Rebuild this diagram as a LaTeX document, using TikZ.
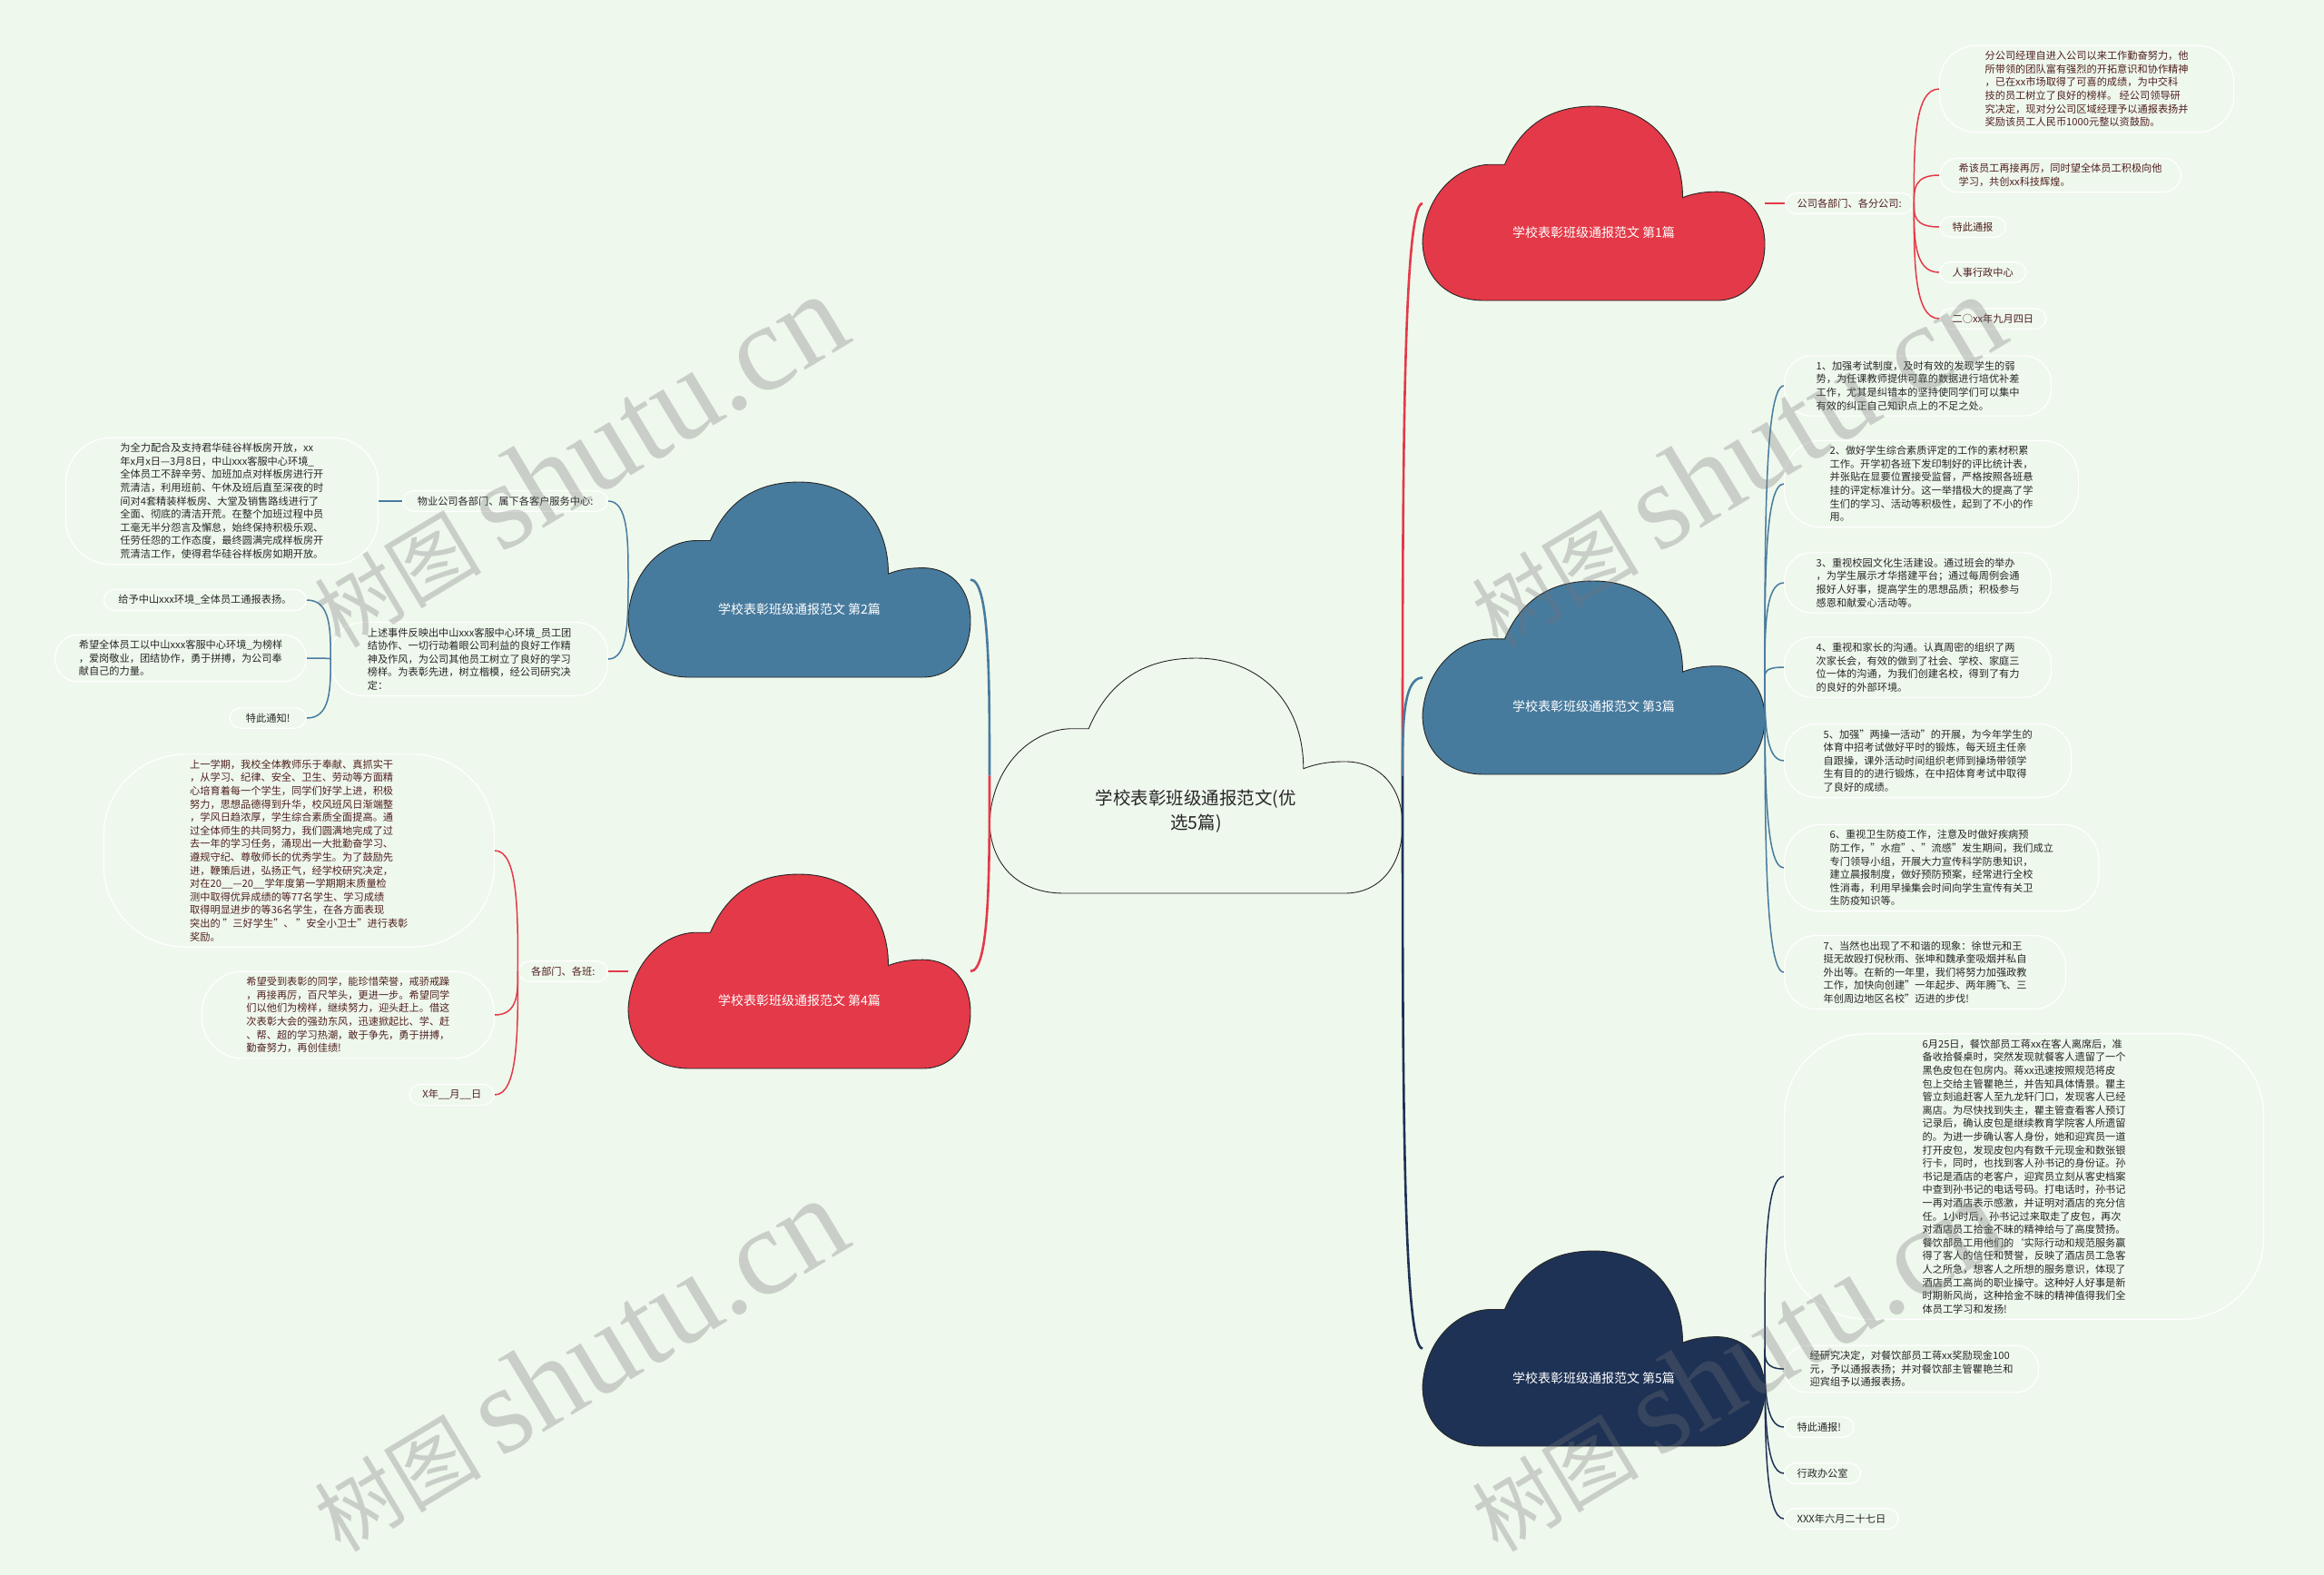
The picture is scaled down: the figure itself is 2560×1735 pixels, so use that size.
\documentclass[tikz,border=0pt]{standalone}
\usepackage{fontspec}
\setmainfont{Noto Sans CJK SC}
\newfontfamily\wmserif{Liberation Serif}
\usepackage{tikz}
\usetikzlibrary{calc}
\usepackage{xcolor}
\definecolor{mint}{RGB}{239,248,237}
\definecolor{cred}{RGB}{228,57,72}
\definecolor{cblue}{RGB}{71,123,158}
\definecolor{cnavy}{RGB}{30,50,85}
\definecolor{txtred}{RGB}{80,32,32}
\definecolor{txtgray}{RGB}{40,40,40}

% cloud: name, x0, y0, width, height, fill, text style, text
\newcommand{\drawcloud}[8]{%
  \begin{scope}[shift={(#2,#3)},xscale=#4,yscale=#5]
    \filldraw[fill=#6,draw=black!85,line width=0.9pt]
      (0.18,1) .. controls (0.06,1) and (0,0.86) .. (0,0.69)
      .. controls (0.01,0.44) and (0.11,0.30) .. (0.20,0.30) -- (0.24,0.30)
      .. controls (0.29,0.09) and (0.38,0) .. (0.50,0)
      .. controls (0.65,0) and (0.76,0.18) .. (0.76,0.47)
      .. controls (0.79,0.45) and (0.82,0.44) .. (0.86,0.44)
      .. controls (0.95,0.44) and (1,0.56) .. (1,0.71)
      .. controls (1,0.87) and (0.95,1) .. (0.86,1) -- cycle;
    \coordinate (#1-w) at (0,0.5);
    \coordinate (#1-e) at (1,0.5);
    \node[#7] (#1) at (0.5,0.65) {#8};
  \end{scope}}
% curved connector from a fork to a child
\newcommand{\sprig}[3][]{\draw[#1] (#2) .. controls ($(#2)!0.5!(#2 |- #3)$) and (#2 |- #3) .. (#3);}

\begin{document}
\begin{tikzpicture}[x=1pt,y=-1pt,
  leaf/.style={draw=white,line width=1.2pt,rounded corners=12pt,align=left,
    inner ysep=6pt,inner xsep=14pt,font={\fontsize{11.2}{14.6}\selectfont}},
  redleaf/.style={leaf,text=txtred},
  blueleaf/.style={leaf,text=txtgray},
  navyleaf/.style={leaf,text=black!85},
  cloudtxt/.style={text=white,font={\fontsize{14}{17}\selectfont}},
  roottxt/.style={text=black!85,align=center,font={\fontsize{19.5}{27}\selectfont}},
  trunk/.style={line width=2.6pt},
  twigline/.style={line width=1.5pt},
  wmark/.style={rotate=31,text=black!55,text opacity=0.3,inner sep=0pt}]
\useasboundingbox (0,0) rectangle (2560,1735);
\fill[mint] (0,0) rectangle (2560,1735);

% clouds
\drawcloud{root}{1090}{725}{455}{259}{mint}{roottxt}{学校表彰班级通报范文(优\\选5篇)}
\drawcloud{c1}{1567}{117}{377}{214}{cred}{cloudtxt}{学校表彰班级通报范文 第1篇}
\drawcloud{c2}{692}{531}{377}{215}{cblue}{cloudtxt}{学校表彰班级通报范文 第2篇}
\drawcloud{c3}{1567}{640}{377}{213}{cblue}{cloudtxt}{学校表彰班级通报范文 第3篇}
\drawcloud{c4}{692}{963}{377}{214}{cred}{cloudtxt}{学校表彰班级通报范文 第4篇}
\drawcloud{c5}{1567}{1378}{377}{215}{cnavy}{cloudtxt}{学校表彰班级通报范文 第5篇}

% branch 1
\node[redleaf,anchor=west,inner xsep=13pt] (b1) at (1966,224) {公司各部门、各分公司:};
\node[redleaf,anchor=west,inner xsep=50pt,rounded corners=40pt] (b1a) at (2136,98)
  {分公司经理自进入公司以来工作勤奋努力，他\\所带领的团队富有强烈的开拓意识和协作精神\\，已在xx市场取得了可喜的成绩，为中交科\\技的员工树立了良好的榜样。 经公司领导研\\究决定，现对分公司区域经理予以通报表扬并\\奖励该员工人民币1000元整以资鼓励。};
\node[redleaf,anchor=west,inner xsep=21pt,rounded corners=20pt] (b1b) at (2136,193)
  {希该员工再接再厉，同时望全体员工积极向他\\学习，共创xx科技辉煌。};
\node[redleaf,anchor=west] (b1c) at (2136,250) {特此通报};
\node[redleaf,anchor=west] (b1d) at (2136,300) {人事行政中心};
\node[redleaf,anchor=west] (b1e) at (2136,351) {二○xx年九月四日};

% branch 3
\node[blueleaf,anchor=west,inner xsep=35pt,rounded corners=30pt] (b3a) at (1965,425)
  {1、加强考试制度，及时有效的发现学生的弱\\势，为任课教师提供可靠的数据进行培优补差\\工作，尤其是纠错本的坚持使同学们可以集中\\有效的纠正自己知识点上的不足之处。};
\node[blueleaf,anchor=west,inner xsep=50pt,rounded corners=40pt] (b3b) at (1965,533)
  {2、做好学生综合素质评定的工作的素材积累\\工作。开学初各班下发印制好的评比统计表，\\并张贴在显要位置接受监督，严格按照各班悬\\挂的评定标准计分。这一举措极大的提高了学\\生们的学习、活动等积极性，起到了不小的作\\用。};
\node[blueleaf,anchor=west,inner xsep=35pt,rounded corners=30pt] (b3c) at (1965,642)
  {3、重视校园文化生活建设。通过班会的举办\\，为学生展示才华搭建平台；通过每周例会通\\报好人好事，提高学生的思想品质；积极参与\\感恩和献爱心活动等。};
\node[blueleaf,anchor=west,inner xsep=35pt,rounded corners=30pt] (b3d) at (1965,735)
  {4、重视和家长的沟通。认真周密的组织了两\\次家长会，有效的做到了社会、学校、家庭三\\位一体的沟通，为我们创建名校，得到了有力\\的良好的外部环境。};
\node[blueleaf,anchor=west,inner xsep=43pt,rounded corners=35pt] (b3e) at (1965,838)
  {5、加强"两操一活动"的开展，为今年学生的\\体育中招考试做好平时的锻炼，每天班主任亲\\自跟操，课外活动时间组织老师到操场带领学\\生有目的的进行锻炼，在中招体育考试中取得\\了良好的成绩。};
\node[blueleaf,anchor=west,inner xsep=50pt,rounded corners=40pt] (b3f) at (1965,956)
  {6、重视卫生防疫工作，注意及时做好疾病预\\防工作，"水痘"、"流感"发生期间，我们成立\\专门领导小组，开展大力宣传科学防患知识，\\建立晨报制度，做好预防预案，经常进行全校\\性消毒，利用早操集会时间向学生宣传有关卫\\生防疫知识等。};
\node[blueleaf,anchor=west,inner xsep=43pt,rounded corners=35pt] (b3g) at (1965,1071)
  {7、当然也出现了不和谐的现象：徐世元和王\\挺无故殴打倪秋雨、张坤和魏承奎吸烟并私自\\外出等。在新的一年里，我们将努力加强政教\\工作，加快向创建"一年起步、两年腾飞、三\\年创周边地区名校"迈进的步伐!};

% branch 5
\node[navyleaf,anchor=west,inner xsep=152pt,rounded corners=90pt] (b5a) at (1965,1296)
  {6月25日，餐饮部员工蒋xx在客人离席后，准\\备收拾餐桌时，突然发现就餐客人遗留了一个\\黑色皮包在包房内。蒋xx迅速按照规范将皮\\包上交给主管瞿艳兰，并告知具体情景。瞿主\\管立刻追赶客人至九龙轩门口，发现客人已经\\离店。为尽快找到失主，瞿主管查看客人预订\\记录后，确认皮包是继续教育学院客人所遗留\\的。为进一步确认客人身份，她和迎宾员一道\\打开皮包，发现皮包内有数千元现金和数张银\\行卡，同时，也找到客人孙书记的身份证。孙\\书记是酒店的老客户，迎宾员立刻从客史档案\\中查到孙书记的电话号码。打电话时，孙书记\\一再对酒店表示感激，并证明对酒店的充分信\\任。1小时后，孙书记过来取走了皮包，再次\\对酒店员工拾金不昧的精神给与了高度赞扬。\\餐饮部员工用他们的`实际行动和规范服务赢\\得了客人的信任和赞誉，反映了酒店员工急客\\人之所急，想客人之所想的服务意识，体现了\\酒店员工高尚的职业操守。这种好人好事是新\\时期新风尚，这种拾金不昧的精神值得我们全\\体员工学习和发扬!};
\node[navyleaf,anchor=west,inner xsep=28pt,rounded corners=25pt] (b5b) at (1965,1508)
  {经研究决定，对餐饮部员工蒋xx奖励现金100\\元，予以通报表扬；并对餐饮部主管瞿艳兰和\\迎宾组予以通报表扬。};
\node[navyleaf,anchor=west] (b5c) at (1965,1572) {特此通报!};
\node[navyleaf,anchor=west] (b5d) at (1965,1623) {行政办公室};
\node[navyleaf,anchor=west] (b5e) at (1965,1673) {XXX年六月二十七日};

% branch 2
\node[blueleaf,anchor=east,inner xsep=16pt] (b2) at (670,552) {物业公司各部门、属下各客户服务中心:};
\node[blueleaf,anchor=east,inner xsep=60pt,rounded corners=50pt] (b2x) at (417,552)
  {为全力配合及支持君华硅谷样板房开放，xx\\年x月x日—3月8日，中山xxx客服中心环境\_\\全体员工不辞辛劳、加班加点对样板房进行开\\荒清洁，利用班前、午休及班后直至深夜的时\\间对4套精装样板房、大堂及销售路线进行了\\全面、彻底的清洁开荒。在整个加班过程中员\\工毫无半分怨言及懈怠，始终保持积极乐观、\\任劳任怨的工作态度，最终圆满完成样板房开\\荒清洁工作，使得君华硅谷样板房如期开放。};
\node[blueleaf,anchor=east,inner xsep=40pt,rounded corners=35pt] (b2y) at (670,726)
  {上述事件反映出中山xxx客服中心环境\_员工团\\结协作、一切行动着眼公司利益的良好工作精\\神及作风，为公司其他员工树立了良好的学习\\榜样。为表彰先进，树立楷模，经公司研究决\\定：};
\node[blueleaf,anchor=east,inner xsep=16pt] (b2ya) at (338,661) {给予中山xxx环境\_全体员工通报表扬。};
\node[blueleaf,anchor=east,inner xsep=26pt,rounded corners=25pt] (b2yb) at (338,725)
  {希望全体员工以中山xxx客服中心环境\_为榜样\\，爱岗敬业，团结协作，勇于拼搏，为公司奉\\献自己的力量。};
\node[blueleaf,anchor=east,inner xsep=18pt] (b2yc) at (338,791) {特此通知!};

% branch 4
\node[redleaf,anchor=east] (b4) at (670,1070) {各部门、各班:};
\node[redleaf,anchor=east,inner xsep=95pt,rounded corners=90pt] (b4a) at (545,937)
  {上一学期，我校全体教师乐于奉献、真抓实干\\，从学习、纪律、安全、卫生、劳动等方面精\\心培育着每一个学生，同学们好学上进，积极\\努力，思想品德得到升华，校风班风日渐端整\\，学风日趋浓厚，学生综合素质全面提高。通\\过全体师生的共同努力，我们圆满地完成了过\\去一年的学习任务，涌现出一大批勤奋学习、\\遵规守纪、尊敬师长的优秀学生。为了鼓励先\\进，鞭策后进，弘扬正气，经学校研究决定，\\对在20\_\_—20\_\_学年度第一学期期末质量检\\测中取得优异成绩的等77名学生、学习成绩\\取得明显进步的等36名学生，在各方面表现\\突出的 "三好学生"、 "安全小卫士"进行表彰\\奖励。};
\node[redleaf,anchor=east,inner xsep=49pt,rounded corners=45pt] (b4b) at (545,1118)
  {希望受到表彰的同学，能珍惜荣誉，戒骄戒躁\\，再接再厉，百尺竿头，更进一步。希望同学\\们以他们为榜样，继续努力，迎头赶上。借这\\次表彰大会的强劲东风，迅速掀起比、学、赶\\、帮、超的学习热潮，敢于争先，勇于拼搏，\\勤奋努力，再创佳绩!};
\node[redleaf,anchor=east] (b4c) at (545,1206) {X年\_\_月\_\_日};

% connectors
\sprig[trunk,cred]{root-e}{c1-w}
\sprig[trunk,cblue]{root-e}{c3-w}
\sprig[trunk,cnavy]{root-e}{c5-w}
\sprig[trunk,cblue]{root-w}{c2-e}
\sprig[trunk,cred]{root-w}{c4-e}

\draw[twigline,cred] (c1-e) -- (b1.west);
\foreach \n in {b1a,b1b,b1c,b1d,b1e}
  {\sprig[twigline,cred]{b1.east}{\n.west}}
\foreach \n in {b3a,b3b,b3c,b3d,b3e,b3f,b3g}
  {\sprig[twigline,cblue]{c3-e}{\n.west}}
\foreach \n in {b5a,b5b,b5c,b5d,b5e}
  {\sprig[twigline,cnavy]{c5-e}{\n.west}}

\sprig[twigline,cblue]{c2-w}{b2.east}
\sprig[twigline,cblue]{c2-w}{b2y.east}
\draw[twigline,cblue] (b2.west) -- (b2x.east);
\foreach \n in {b2ya,b2yb,b2yc}
  {\sprig[twigline,cblue]{b2y.west}{\n.east}}

\draw[twigline,cred] (c4-w) -- (b4.east);
\foreach \n in {b4a,b4b,b4c}
  {\sprig[twigline,cred]{b4.west}{\n.east}}

% watermark
\foreach \wx/\wy in {637/508,1912/508,637/1504,1912/1504}
  {\node[wmark] (wm-\wx-\wy) at (\wx,\wy)
    {\fontsize{92}{92}\selectfont 树图 {\wmserif\fontsize{136}{136}\selectfont shutu.cn}};}
\end{tikzpicture}
\end{document}
